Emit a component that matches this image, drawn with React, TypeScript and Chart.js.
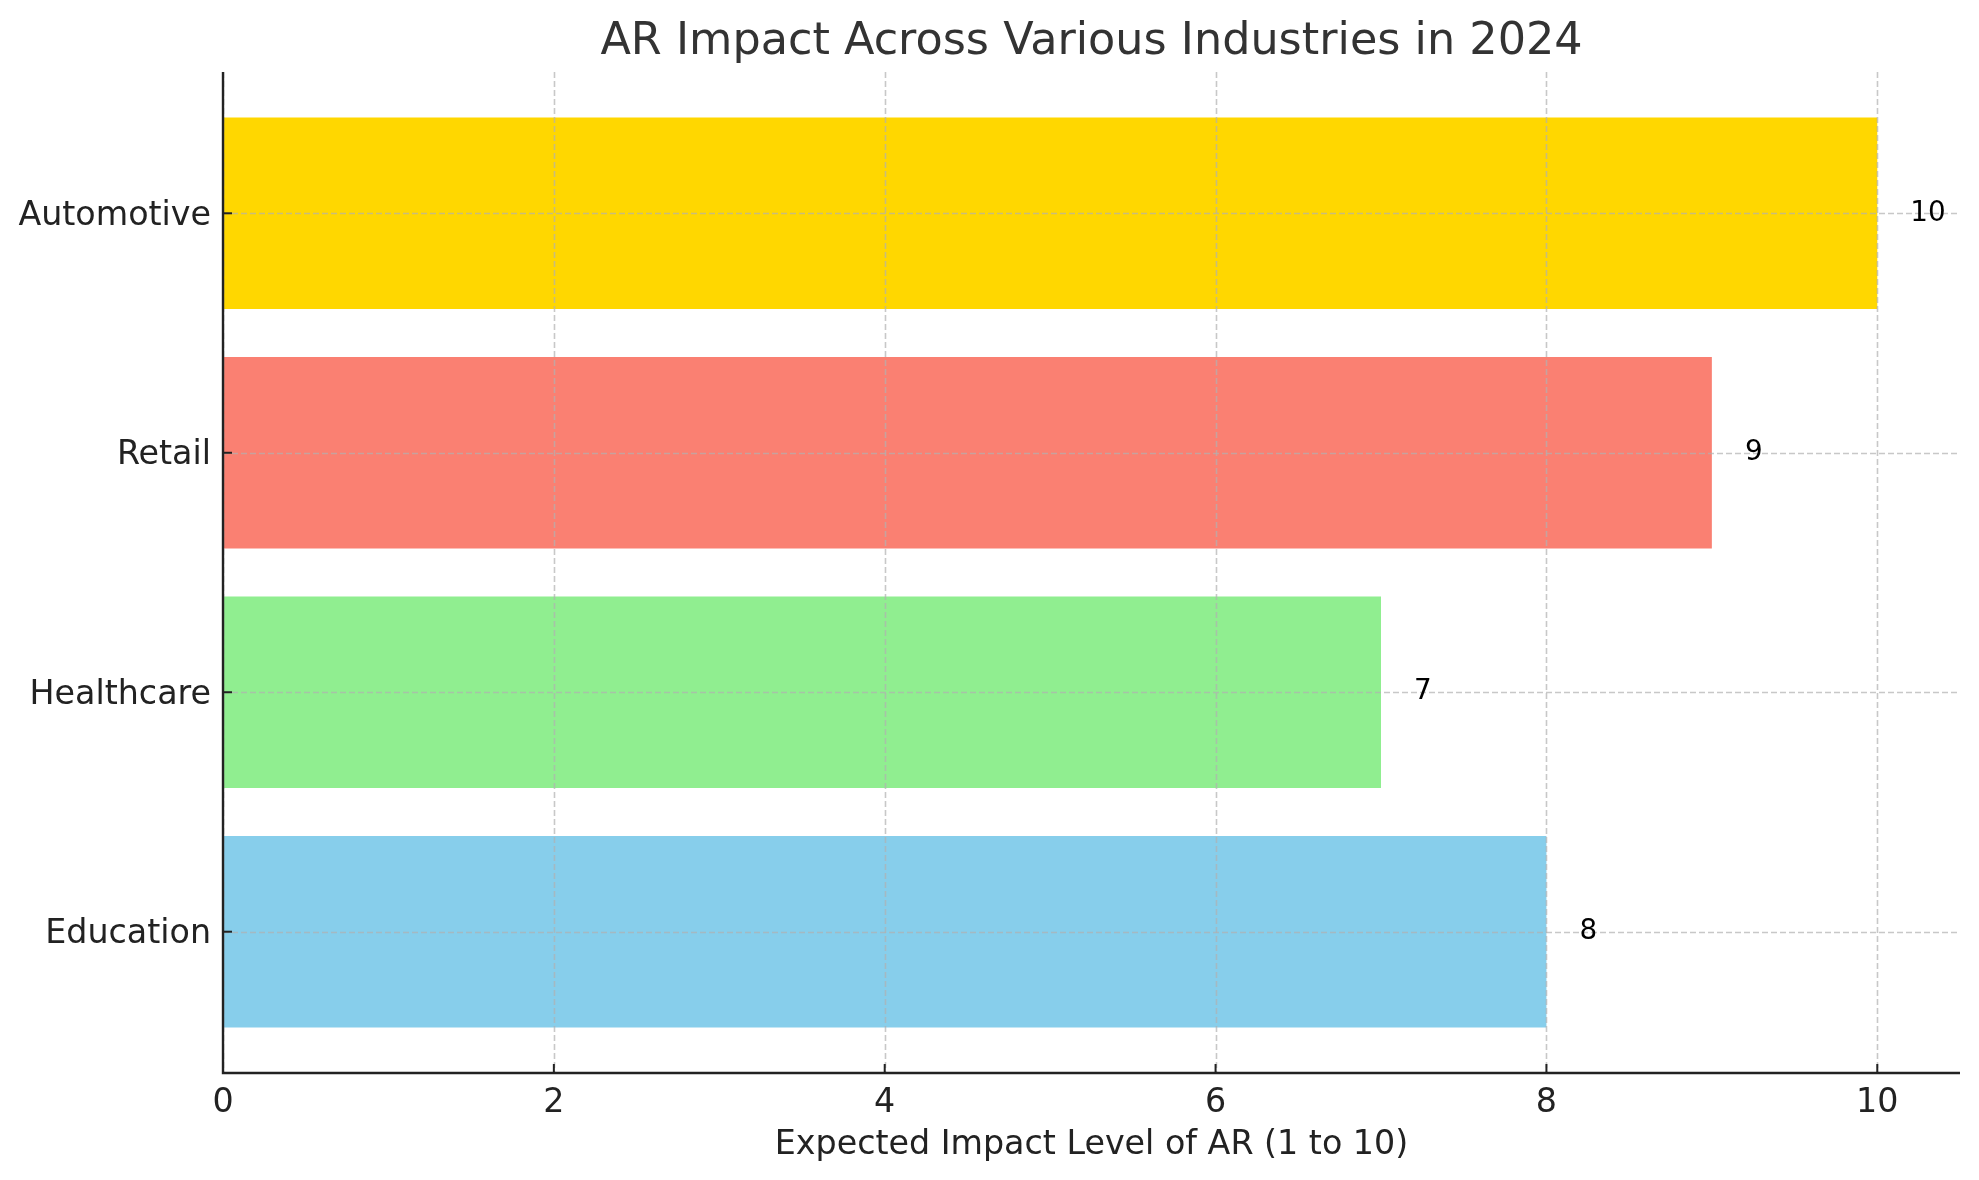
import React, { useEffect, useRef } from "react";
import { Chart, registerables } from "chart.js";

Chart.register(...registerables);

const categories: string[] = ["Education", "Healthcare", "Retail", "Automotive"];
const impactValues: number[] = [8, 7, 9, 10];
const barColors: string[] = ["#87CEEB", "#90EE90", "#FA8072", "#FFD700"];
const xTickValues: number[] = [0, 2, 4, 6, 8, 10];
const chartTitle = "AR Impact Across Various Industries in 2024";
const xAxisTitle = "Expected Impact Level of AR (1 to 10)";

const FONT = "'DejaVu Sans', 'Liberation Sans', sans-serif";

const overlayPlugin = {
  id: "overlay",
  afterDatasetsDraw(chart: any) {
    const { ctx, chartArea, scales } = chart;
    const xs = scales.x;
    const ys = scales.y;
    ctx.save();
    // grid lines above bars (matplotlib style)
    ctx.strokeStyle = "rgba(176,176,176,0.7)";
    ctx.lineWidth = 1.6;
    ctx.setLineDash([6, 3]);
    xTickValues.forEach((v) => {
      const px = Math.round(xs.getPixelForValue(v)) + 0.5;
      ctx.beginPath();
      ctx.moveTo(px, chartArea.top);
      ctx.lineTo(px, chartArea.bottom);
      ctx.stroke();
    });
    categories.forEach((_, i) => {
      const py = Math.round(ys.getPixelForValue(i)) + 0.5;
      ctx.beginPath();
      ctx.moveTo(chartArea.left, py);
      ctx.lineTo(chartArea.right, py);
      ctx.stroke();
    });
    ctx.setLineDash([]);
    // value labels
    ctx.fillStyle = "#000000";
    ctx.font = `27.8px ${FONT}`;
    ctx.textAlign = "left";
    ctx.textBaseline = "middle";
    impactValues.forEach((v, i) => {
      ctx.fillText(String(v), xs.getPixelForValue(v + 0.2), ys.getPixelForValue(i));
    });
    // spines
    ctx.strokeStyle = "#222222";
    ctx.lineWidth = 2.4;
    ctx.beginPath();
    ctx.moveTo(chartArea.left, chartArea.top);
    ctx.lineTo(chartArea.left, chartArea.bottom);
    ctx.lineTo(chartArea.right, chartArea.bottom);
    ctx.stroke();
    // inward tick marks
    ctx.lineWidth = 2;
    xTickValues.forEach((v) => {
      const px = xs.getPixelForValue(v);
      ctx.beginPath();
      ctx.moveTo(px, chartArea.bottom);
      ctx.lineTo(px, chartArea.bottom - 9);
      ctx.stroke();
    });
    categories.forEach((_, i) => {
      const py = ys.getPixelForValue(i);
      ctx.beginPath();
      ctx.moveTo(chartArea.left, py);
      ctx.lineTo(chartArea.left + 9, py);
      ctx.stroke();
    });
    // title
    ctx.fillStyle = "#333333";
    ctx.font = `44.5px ${FONT}`;
    ctx.textAlign = "center";
    ctx.textBaseline = "alphabetic";
    ctx.fillText(chartTitle, (chartArea.left + chartArea.right) / 2, 54);
    ctx.restore();
  },
};

export default function App() {
  const canvasRef = useRef<HTMLCanvasElement | null>(null);

  useEffect(() => {
    if (!canvasRef.current) return;
    const chart = new Chart(canvasRef.current, {
      type: "bar",
      data: {
        datasets: [
          {
            data: impactValues.map((v, i) => ({ x: v, y: i })),
            backgroundColor: barColors,
            borderWidth: 0,
            barPercentage: 0.8,
            categoryPercentage: 1,
          },
        ],
      },
      options: {
        indexAxis: "y",
        animation: false,
        responsive: false,
        devicePixelRatio: 1,
        layout: { padding: { top: 72, right: 19, left: 0, bottom: 0 } },
        plugins: {
          legend: { display: false },
          tooltip: { enabled: false },
          title: { display: false },
        },
        scales: {
          x: {
            type: "linear",
            min: 0,
            max: 10.5,
            offset: false,
            afterBuildTicks: (scale: any) => {
              scale.ticks = xTickValues.map((v) => ({ value: v }));
            },
            afterFit: (scale: any) => {
              scale.height = 107;
            },
            grid: { display: false, drawTicks: false },
            border: { display: false },
            ticks: {
              color: "#222222",
              font: { family: FONT, size: 33.3 },
              padding: 10,
              maxRotation: 0,
              autoSkip: false,
            },
            title: {
              display: true,
              text: xAxisTitle,
              color: "#222222",
              font: { family: FONT, size: 33.3 },
              padding: { top: 0, bottom: 15 },
            },
          },
          y: {
            type: "linear",
            min: -0.59,
            max: 3.59,
            offset: false,
            afterBuildTicks: (scale: any) => {
              scale.ticks = categories.map((_, i) => ({ value: i }));
            },
            afterFit: (scale: any) => {
              scale.width = 223;
            },
            grid: { display: false, drawTicks: false, offset: false },
            border: { display: false },
            ticks: {
              color: "#222222",
              font: { family: FONT, size: 33.3 },
              padding: 12,
              labelOffset: 3,
              autoSkip: false,
              callback: (value: any) => categories[Number(value)] ?? "",
            },
          },
        },
      },
      plugins: [overlayPlugin],
    } as any);
    return () => chart.destroy();
  }, []);

  return (
    <div
      style={{
        position: "absolute",
        left: 0,
        top: 0,
        width: 1979,
        height: 1180,
        background: "#ffffff",
      }}
    >
      <canvas ref={canvasRef} width={1979} height={1180} />
    </div>
  );
}
